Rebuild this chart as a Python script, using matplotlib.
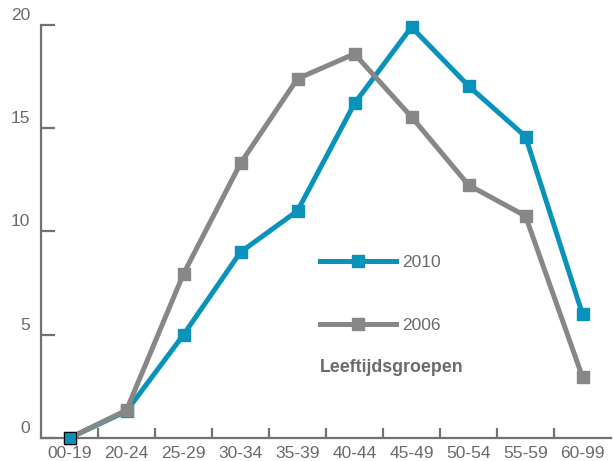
import numpy as np
import matplotlib.pyplot as plt
import matplotlib.transforms as mtransforms
from matplotlib.lines import Line2D

plt.rcParams['font.family'] = ['Liberation Sans', 'DejaVu Sans']

groups = ["00-19", "20-24", "25-29", "30-34", "35-39", "40-44", "45-49", "50-54", "55-59", "60-99"]
v2010 = [0.0, 1.3, 5.0, 9.0, 11.0, 16.2, 19.9, 17.05, 14.6, 6.0]
v2006 = [0.0, 1.35, 7.95, 13.3, 17.4, 18.6, 15.55, 12.25, 10.75, 2.95]
yticks = [0, 5, 10, 15, 20]

blue = "#0a93ba"
grey = "#878787"
axcol = "#727272"
txtcol = "#6a6a6a"

fig = plt.figure(figsize=(6.14, 4.61), dpi=100)
W, H = 614, 461
ax = fig.add_axes([41 / W, 1 - 438 / H, 570 / W, 413 / H])

x = np.arange(len(groups))
ax.plot(x, v2010, color=blue, lw=3.6, marker="s", ms=8.5, mec=blue, clip_on=False, zorder=3)
ax.plot(x, v2006, color=grey, lw=3.6, marker="s", ms=8.5, mec=grey, clip_on=False, zorder=4)
# first point of 2010 sits on top with a dark edge
ax.plot(x[:1], v2010[:1], ls="none", marker="s", ms=8.5, mfc=blue, mec="black", mew=0.8,
        clip_on=False, zorder=5)

ax.set_xlim(-0.5, len(groups) - 0.5)
ax.set_ylim(0, 20)

for s in ["top", "right"]:
    ax.spines[s].set_visible(False)
for s in ["left", "bottom"]:
    ax.spines[s].set_color(axcol)
    ax.spines[s].set_linewidth(1.6)

ax.set_yticks(yticks)
ax.tick_params(axis="y", direction="in", length=10, width=1.6, color=axcol,
               labelsize=12.5, labelcolor=txtcol, pad=8)
for lab in ax.get_yticklabels():
    lab.set_transform(lab.get_transform() +
                      mtransforms.ScaledTranslation(0, 11 / 100, fig.dpi_scale_trans))

ax.set_xticks(x)
ax.set_xticklabels(groups)
ax.tick_params(axis="x", which="major", length=0, labelsize=12.5, labelcolor=txtcol, pad=6)
ax.set_xticks(x[:-1] + 0.5, minor=True)
ax.tick_params(axis="x", which="minor", direction="in", length=7.5, width=1.6, color=axcol)

handles = [Line2D([], [], color=blue, lw=3.6, marker="s", ms=8.5),
           Line2D([], [], color=grey, lw=3.6, marker="s", ms=8.5)]
leg = ax.legend(handles, ["2010", "2006"], loc="upper left",
                bbox_to_anchor=(320 / W, 1 - 255 / H), bbox_transform=fig.transFigure,
                frameon=False, borderpad=0, borderaxespad=0, handlelength=4.4,
                handletextpad=0.35, labelspacing=2.75, fontsize=12.5)
for t in leg.get_texts():
    t.set_color(txtcol)

fig.text(320 / W, 1 - 367 / H, "Leeftijdsgroepen", fontsize=12.8, fontweight="bold",
         color=txtcol, va="center", ha="left")

fig.savefig("out.png", dpi=100)
